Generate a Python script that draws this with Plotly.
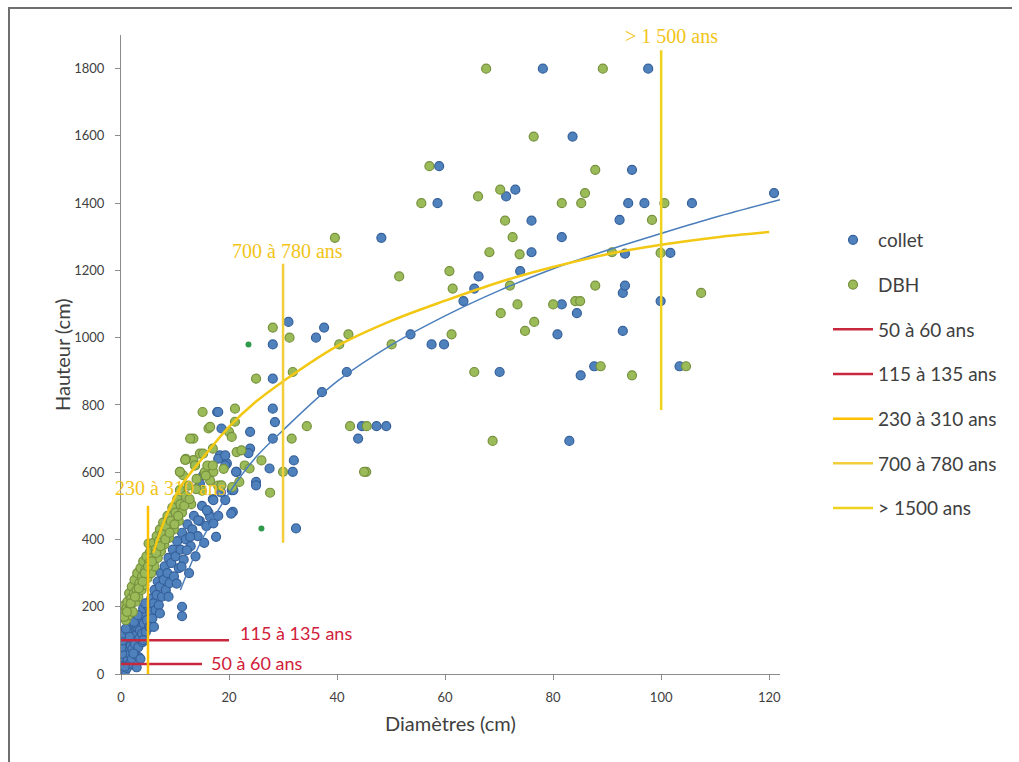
import plotly.graph_objects as go

# ---- Hauteur / diamètre : collet (blue) ----
collet_x = [
    0.1, 0.2, 0.3, 0.2, 0.4, 0.5, 0.6, 0.4, 0.7, 0.3, 0.8, 0.9, 1.0, 0.6, 1.1, 1.2, 1.3, 0.8,
    0.5, 1.4, 1.0, 1.6, 1.7, 1.8, 1.5, 2.0, 2.1, 2.2, 2.3, 1.9, 2.5, 2.6, 2.8, 3.0, 2.7, 3.2,
    3.4, 3.5, 3.7, 3.3, 3.9, 4.0, 4.2, 4.4, 4.1, 4.6, 4.8, 5.0, 5.2, 5.4, 5.6, 5.8, 6.0, 6.2,
    6.4, 6.6, 6.8, 7.0, 7.2, 7.4, 7.6, 7.9, 8.1, 8.3, 8.6, 8.8, 9.0, 9.3, 9.6, 9.8, 10.1, 10.4,
    10.7, 11.0, 11.3, 11.3, 11.3, 11.6, 12.0, 12.3, 12.6, 12.9, 13.2, 13.5, 13.8, 14.2, 14.6,
    15.0, 15.4, 15.8, 16.2, 16.5, 17.1, 17.6, 17.0, 18.0, 18.5, 19.3, 20.7, 20.4, 0.2, 0.1,
    0.3, 0.4, 0.7, 2.3, 4.1, 5.4, 7.2, 8.8, 10.3, 11.2, 12.2, 12.8, 14.3, 15.9, 17.1, 20.5,
    14.6, 16.2, 21.4, 19.6, 18.3, 1.2, 2.9, 3.6, 0.9, 1.6, 2.4, 4.5, 6.1, 3.1,
    17.8, 18.0, 18.6, 23.9, 23.9, 23.6, 19.3, 18.0, 19.3, 27.5, 31.8, 32.0, 21.3, 15.2, 25.0,
    25.0, 20.8, 28.1, 28.1, 28.1, 28.5, 28.1, 32.4, 37.2, 31.0, 36.1, 37.6, 41.8, 44.6, 47.3,
    49.1, 43.9, 48.2, 53.6, 57.5, 59.8, 63.4, 65.4, 66.2, 70.1, 73.0, 71.3, 73.9, 76.0, 78.1,
    80.8, 81.6, 81.6, 83.0, 83.6, 84.4, 85.1, 87.6, 92.3, 92.9, 92.9, 93.3, 93.3, 93.9, 94.6,
    96.9, 97.6, 99.9, 101.7, 103.4, 105.7, 120.9, 58.6, 58.9, 76.0,
]
collet_y = [
    3, 8, 15, 25, 5, 12, 22, 35, 40, 48, 10, 28, 55, 62, 18, 40, 70, 80,
    90, 95, 105, 30, 60, 85, 115, 45, 75, 100, 125, 140, 60, 90, 115, 140, 150, 80,
    105, 130, 160, 50, 120, 95, 150, 175, 195, 125, 160, 200, 140, 185, 225, 165, 210, 250,
    190, 235, 275, 205, 260, 300, 230, 280, 320, 250, 300, 345, 270, 330, 370, 290, 350, 395,
    315, 370, 420, 200, 172, 340, 400, 445, 300, 380, 430, 470, 350, 410, 455,
    500, 390, 440, 480, 467, 448, 408, 520, 470, 540, 517, 482, 477, 60, 80,
    100, 120, 22, 61, 101, 140, 180, 230, 269, 319, 368, 408, 457, 487, 517, 547,
    566, 596, 601, 626, 650, 130, 20, 45, 135, 110, 155, 210, 140, 175,
    779, 640, 730, 720, 670, 657, 650, 779, 620, 611, 601, 635, 601, 591, 571,
    561, 547, 980, 878, 789, 749, 700, 433, 838, 1047, 1000, 1030, 898, 737, 737,
    737, 700, 1297, 1010, 980, 980, 1109, 1146, 1182, 898, 1440, 1420, 1198, 1348, 1800,
    1010, 1099, 1299, 693, 1598, 1073, 888, 915, 1350, 1133, 1020, 1155, 1250, 1400, 1499,
    1400, 1800, 1109, 1252, 915, 1400, 1430, 1400, 1510, 1254,
]

# ---- Hauteur / diamètre : DBH (green) ----
dbh_x = [
    0.3, 0.5, 0.7, 0.9, 1.0, 1.2, 1.4, 1.5, 1.7, 1.9, 2.0, 2.2, 2.4, 2.5, 2.7, 2.9, 3.0, 3.2,
    3.4, 3.6, 3.8, 3.9, 4.1, 4.3, 4.5, 4.7, 4.9, 5.1, 5.2, 5.4, 5.6, 5.8, 6.0, 6.2, 6.4, 6.6,
    6.8, 7.0, 7.2, 7.4, 7.6, 7.8, 8.0, 8.3, 8.6, 8.9, 9.2, 9.5, 9.8, 10.1, 10.4, 10.7, 10.9,
    11.0, 11.3, 11.5, 11.9, 12.0, 12.5, 13.0, 13.4, 13.7, 13.4, 14.0, 14.6, 15.0, 15.2, 15.5,
    16.0, 16.5, 17.1, 17.0, 18.0, 18.6, 19.0, 20.6, 21.9, 22.9, 23.8, 21.4, 22.3, 20.0, 20.5,
    21.1, 16.2, 15.1, 21.1, 25.0, 26.0, 27.6, 30.0, 10.9, 12.8, 12.0, 16.5, 0.6, 1.1, 1.8,
    2.6, 3.3, 4.0, 4.4, 5.0, 5.7, 6.5, 7.3, 8.2, 9.0, 9.9, 10.6, 11.7, 12.7, 13.9, 15.7,
    17.0, 11.9, 13.7, 10.9,
    28.1, 31.2, 31.6, 31.8, 34.4, 42.4, 45.5, 45.4, 45.0, 39.6, 40.4, 42.1, 50.1, 51.5, 55.6,
    57.1, 60.8, 61.2, 61.4, 65.4, 66.1, 67.6, 68.2, 68.8, 70.2, 70.3, 71.1, 72.0, 72.5, 73.4,
    73.8, 74.8, 76.4, 76.5, 80.0, 81.6, 84.1, 85.0, 85.2, 85.9, 87.8, 87.8, 88.8, 89.2, 90.9,
    94.6, 98.3, 99.9, 100.6, 104.6, 107.4,
]
dbh_y = [
    200, 180, 205, 160, 195, 215, 175, 240, 200, 225, 260, 185, 240, 280, 215, 250, 300, 230,
    270, 315, 250, 290, 335, 265, 310, 350, 285, 388, 330, 365, 300, 345, 390, 320, 370, 410,
    345, 395, 430, 365, 415, 450, 385, 440, 470, 405, 455, 495, 430, 480, 520, 455, 547,
    505, 480, 591, 637, 530, 560, 505, 636, 620, 700, 580, 655, 545, 655, 600,
    620, 575, 601, 670, 560, 561, 610, 556, 571, 620, 611, 660, 665, 720, 705,
    750, 730, 779, 789, 878, 635, 539, 601, 601, 700, 640, 735, 170, 185, 210,
    230, 255, 275, 300, 320, 335, 360, 380, 400, 420, 445, 470, 500, 520, 550, 590,
    620, 637, 620, 601,
    1030, 1000, 700, 898, 737, 737, 737, 601, 601, 1297, 980, 1010, 980, 1182, 1400,
    1510, 1198, 1010, 1146, 898, 1420, 1800, 1254, 693, 1440, 1073, 1348, 1155, 1299, 1099,
    1248, 1020, 1598, 1047, 1099, 1400, 1109, 1109, 1400, 1430, 1155, 1499, 915, 1800, 1254,
    888, 1350, 1252, 1400, 915, 1133,
]

# two isolated darker-green readings
extra_x = [23.6, 26.0]
extra_y = [980, 433]

# ---- trend curves ----
collet_trend_x = [11, 15, 20, 25, 30, 40, 50, 60, 70, 80, 90, 100, 110, 122]
collet_trend_y = [250, 400, 538, 645, 725, 870, 978, 1065, 1140, 1205, 1260, 1310, 1358, 1410]
dbh_trend_x = [6, 8, 11, 15, 20, 25, 30, 40, 50, 60, 70, 80, 90, 100, 110, 120]
dbh_trend_y = [360, 455, 556, 640, 735, 810, 870, 975, 1050, 1110, 1165, 1210, 1248, 1276, 1298, 1314]

# ---- age classes (segments) ----
age_names = ["50 à 60 ans", "115 à 135 ans", "230 à 310 ans", "700 à 780 ans", ">\u00a01500 ans"]
age_x = [[0, 15], [0, 20], [5, 5], [30, 30], [100, 100]]
age_y = [[30, 30], [100, 100], [0, 500], [390, 1220], [785, 1855]]
age_colors = ["#C8283E", "#C8283E", "#FFC000", "#F2CE3A", "#EED21E"]

# in-plot labels for the age classes
label_text = ["50 à 60 ans", "115 à 135 ans", "230 à 310 ans", "700 à 780 ans", "> 1 500 ans"]
label_x = [16.3, 21.6, 9.2, 30.9, 102.0]
label_y = [33, 122, 552, 1259, 1898]
label_anchor = ["left", "left", "center", "center", "center"]
label_colors = ["#D0203A", "#D0203A", "#F2C417", "#F2C417", "#F2C417"]
label_fonts = ["Lato", "Lato", "Liberation Serif", "Liberation Serif", "Liberation Serif"]
label_sizes = [18, 18, 20, 20, 20]

L, R, T, B = 121, 780, 35, 674
W, H = 1019, 762

fig = go.Figure()

fig.add_trace(go.Scatter(
    x=collet_x, y=collet_y, mode="markers", name="collet", legendgroup="a",
    marker=dict(size=9, color="#4F81BD", line=dict(color="#35609A", width=1.2)),
))
fig.add_trace(go.Scatter(
    x=dbh_x, y=dbh_y, mode="markers", name="DBH", legendgroup="b",
    marker=dict(size=9, color="#9BBB59", line=dict(color="#76913E", width=1.2)),
))
fig.add_trace(go.Scatter(
    x=extra_x, y=extra_y, mode="markers", showlegend=False,
    marker=dict(size=6, color="#2E9A4A"),
))
fig.add_trace(go.Scatter(
    x=collet_trend_x, y=collet_trend_y, mode="lines", showlegend=False,
    line=dict(color="#4A7EBB", width=1.5, shape="spline"),
))
fig.add_trace(go.Scatter(
    x=dbh_trend_x, y=dbh_trend_y, mode="lines", showlegend=False,
    line=dict(color="#F2C814", width=2.5, shape="spline"),
))
for i, name in enumerate(age_names):
    fig.add_trace(go.Scatter(
        x=age_x[i], y=age_y[i], mode="lines", name=name, legendgroup="g%d" % i,
        line=dict(color=age_colors[i], width=2.5),
    ))

for t, x, y, a, c, f, s in zip(label_text, label_x, label_y, label_anchor, label_colors,
                               label_fonts, label_sizes):
    fig.add_annotation(x=x, y=y, text=t, showarrow=False, xanchor=a, yanchor="middle",
                       font=dict(family=f, size=s, color=c))

px = lambda v: (v - L) / (R - L)
py = lambda v: (B - v) / (B - T)

# axis titles
fig.add_annotation(xref="paper", yref="paper", x=px(62), y=py(355),
                   xanchor="center", yanchor="middle",
                   text="Hauteur (cm)", textangle=-90, showarrow=False,
                   font=dict(family="Lato", size=20, color="#404040"))
fig.add_annotation(xref="paper", yref="paper", x=px(450), y=py(723),
                   xanchor="center", yanchor="middle",
                   text="Diamètres (cm)", showarrow=False,
                   font=dict(family="Lato", size=20, color="#404040"))

# outer frame (top and left edges)
fig.add_shape(type="line", xref="paper", yref="paper", x0=px(8), x1=px(1012), y0=py(8), y1=py(8),
              line=dict(color="#6F6F6F", width=2))
fig.add_shape(type="line", xref="paper", yref="paper", x0=px(9), x1=px(9), y0=py(8), y1=py(762),
              line=dict(color="#6F6F6F", width=2))

axis_style = dict(showgrid=False, zeroline=False, showline=True, linecolor="#8C8C8C",
                  linewidth=1, ticks="outside", ticklen=5, tickcolor="#8C8C8C",
                  tickfont=dict(family="Lato", size=13, color="#404040"))
fig.update_xaxes(range=[0, 122], tickvals=[0, 20, 40, 60, 80, 100, 120],
                 ticklabelstandoff=6, **axis_style)
fig.update_yaxes(range=[0, 1900], tickvals=list(range(0, 1801, 200)),
                 ticklabelstandoff=8, **axis_style)

fig.update_layout(
    width=W, height=H,
    margin=dict(l=L, r=W - R, t=T, b=H - B),
    plot_bgcolor="white", paper_bgcolor="white",
    legend=dict(x=px(828), y=py(221), xanchor="left", yanchor="top",
                font=dict(family="Lato", size=19, color="#404040"),
                tracegroupgap=17, itemwidth=40, bgcolor="rgba(0,0,0,0)"),
)

fig.write_html("out.html")
